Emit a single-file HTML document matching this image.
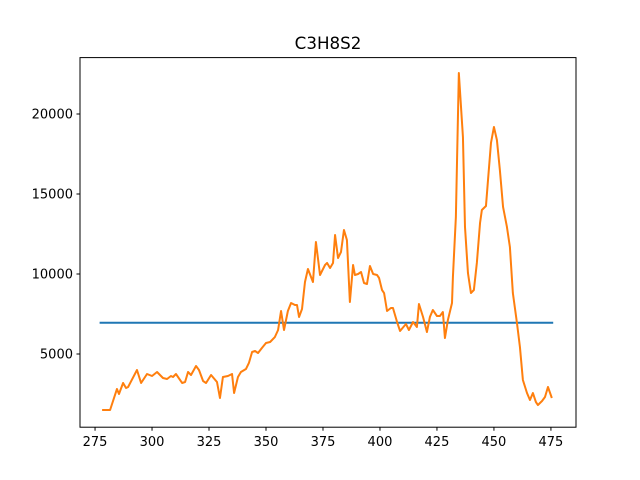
<!DOCTYPE html>
<html><head><meta charset="utf-8"><style>
body{margin:0;background:#fff;}
svg{display:block;font-family:"DejaVu Sans","Liberation Sans",sans-serif;}
</style></head><body>
<svg id="chart" width="640" height="480">
<rect width="640" height="480" fill="#fff"/>
<text x="328" y="49" font-size="16.7" text-anchor="middle">C3H8S2</text>
<g id="plot"></g>
<rect x="80" y="57.6" width="496" height="369.6" fill="none" stroke="#000" stroke-width="1"/>
<g id="ticks"></g>
</svg>
<script>
const xVals=[278.1,281.6,284.6,285.5,287.3,288.6,289.5,293.4,295.2,297.8,300,302.2,304.8,306.6,308.3,309.2,310.5,313.2,314.5,315.8,317.1,319.3,320.6,322.4,323.7,325.9,328.5,329.8,331.1,333.3,335.1,336,337.7,339,341.2,342.5,343.9,345.2,346.5,348.2,350,351.8,353.9,355.3,356.6,357.9,359.6,361,362.7,363.6,364.5,365.8,367.1,368.4,370.6,371.9,373.7,375.9,376.8,378.1,379.4,380.3,381.6,382.9,384.2,385.5,386.8,388.2,389,390.4,391.7,393,394.3,395.6,397,398.7,399.6,400.9,401.8,403.1,404.8,405.7,407.5,408.8,411.4,412.7,414.5,416.2,417.1,418.9,420.6,421.9,423.2,425,426.3,427.6,428.5,429.8,431.6,432,433.3,434.6,436.4,437.3,438.6,439.9,441.2,442.5,443.9,444.7,446.5,447.4,448.7,450,451.3,452.6,454,455.7,457,458.3,460.1,461.4,462.7,464.5,465.8,467.1,468.4,469.3,471.1,472.4,473.7,475.4];
const yVals=[1500,1500,2812,2500,3188,2875,2938,4000,3188,3750,3625,3875,3500,3438,3625,3562,3750,3188,3250,3875,3688,4250,4000,3312,3188,3688,3250,2250,3562,3625,3750,2562,3562,3875,4062,4438,5125,5188,5062,5375,5688,5750,6062,6500,7688,6500,7688,8188,8062,8062,7312,7812,9500,10312,9500,12000,9938,10562,10688,10375,10688,12438,11000,11375,12750,12125,8250,10562,9938,10000,10125,9438,9375,10500,10000,9938,9750,9000,8812,7688,7875,7875,7000,6438,6875,6500,7000,6688,8125,7312,6375,7312,7750,7375,7375,7625,6000,7125,8188,9812,13562,22562,18562,12938,10062,8812,9000,10688,13188,14000,14250,15875,18188,19188,18375,16500,14188,12938,11688,8812,6938,5438,3375,2562,2125,2562,2000,1812,2062,2312,2938,2250];
const meanX=[277,476];
const meanY=[6950,6950];
const xTicks=[275,300,325,350,375,400,425,450,475];
const yTicks=[5000,10000,15000,20000];
const NS="http://www.w3.org/2000/svg";
const X=v=>80+(v-268.4)*(496/(486.0-268.4));
const Y=v=>427.2-(v-425)*(369.6/(23525-425));
const plot=document.getElementById('plot'),ticks=document.getElementById('ticks');
function mk(t,a,p){const e=document.createElementNS(NS,t);for(const k in a)e.setAttribute(k,a[k]);p.appendChild(e);return e;}
const l1=mk('polyline',{points:meanX.map((x,i)=>X(x)+','+Y(meanY[i])).join(' '),fill:'none',stroke:'#1f77b4','stroke-width':2},plot);


const l2=mk('polyline',{points:xVals.map((x,i)=>X(x)+','+Y(yVals[i])).join(' '),fill:'none',stroke:'#ff7f0e','stroke-width':2,'stroke-linejoin':'round'},plot);


xTicks.forEach(t=>{const x=X(t);
 const tk=mk('line',{x1:x,x2:x,y1:427.2,y2:430.7,stroke:'#000'},ticks);
 
 
 const tx=mk('text',{x:x,y:446,'font-size':13,'text-anchor':'middle'},ticks);tx.textContent=t;
 
 });
yTicks.forEach(t=>{const y=Y(t);
 const tk=mk('line',{x1:76.5,x2:80,y1:y,y2:y,stroke:'#000'},ticks);
 
 
 const tx=mk('text',{x:73,y:y+4.7,'font-size':13,'text-anchor':'end'},ticks);tx.textContent=t;
 
 });
</script>
</body></html>
